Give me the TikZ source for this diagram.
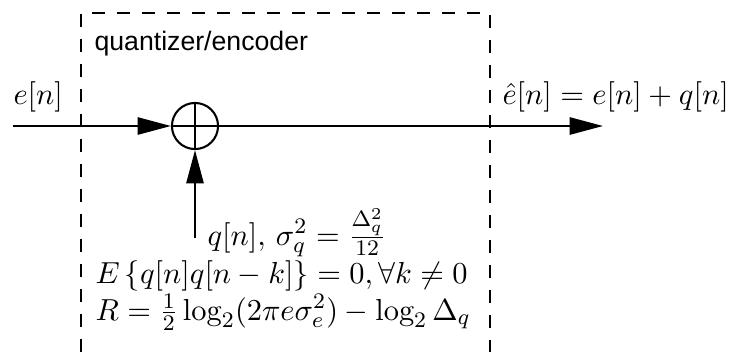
\documentclass[tikz,border=0pt]{standalone}
\usepackage{fontspec}
\newfontfamily\helv{Liberation Sans}
\usetikzlibrary{arrows.meta}
\begin{document}
\begin{tikzpicture}[x=0.36pt,y=-0.36pt,
  wire/.style={line width=0.75pt},
  bigarrow/.style={wire,-{Triangle[length=12pt,width=6.2pt]}},
  boxline/.style={line width=0.75pt,dash pattern=on 4.7pt off 4.3pt},
  lbl/.style={inner sep=0pt,anchor=base west,font=\fontsize{10.95}{13}\selectfont},
  sumnode/.style={circle,draw,line width=0.75pt,minimum size=16.6pt,inner sep=0pt,
    path picture={\draw[line width=0.75pt] (path picture bounding box.north) -- (path picture bounding box.south)
      (path picture bounding box.west) -- (path picture bounding box.east);}}]
\useasboundingbox (0,0) rectangle (732,352);
% dashed box
\coordinate (bl) at (81,352);
\coordinate (tl) at (81,13);
\coordinate (tr) at (490,13);
\coordinate (br) at (490,352);
\draw[boxline] (bl) -- (tl) -- (tr) -- (br);
\node[inner sep=0pt,anchor=base west] (title) at (94,50) {\helv\fontsize{9.6}{11}\selectfont quantizer/encoder};
% signal flow
\node[sumnode] (sum) at (195,126) {};
\coordinate (in) at (13,126);
\coordinate (out) at (603,126);
\coordinate (qin) at (195,238);
\draw[bigarrow] (in) -- (sum.west);
\draw[bigarrow] (sum.east) -- (out);
\draw[bigarrow] (qin) -- (sum.south);
% labels
\node[lbl] (en) at (13,104) {$e[n]$};
\node[lbl] (ehat) at (502,104) {$\hat{e}[n]=e[n]+q[n]$};
\node[lbl] (qn) at (207,245) {$q[n],\,\sigma_q^2=\frac{\Delta_q^2}{12}$};
\node[lbl] (corr) at (95,283) {$E\left\{q[n]q[n-k]\right\}=0,\forall k\neq 0$};
\node[lbl] (rate) at (95,320) {$R=\frac{1}{2}\log_2(2\pi e\sigma_e^2)-\log_2\Delta_q$};
\end{tikzpicture}
\end{document}
